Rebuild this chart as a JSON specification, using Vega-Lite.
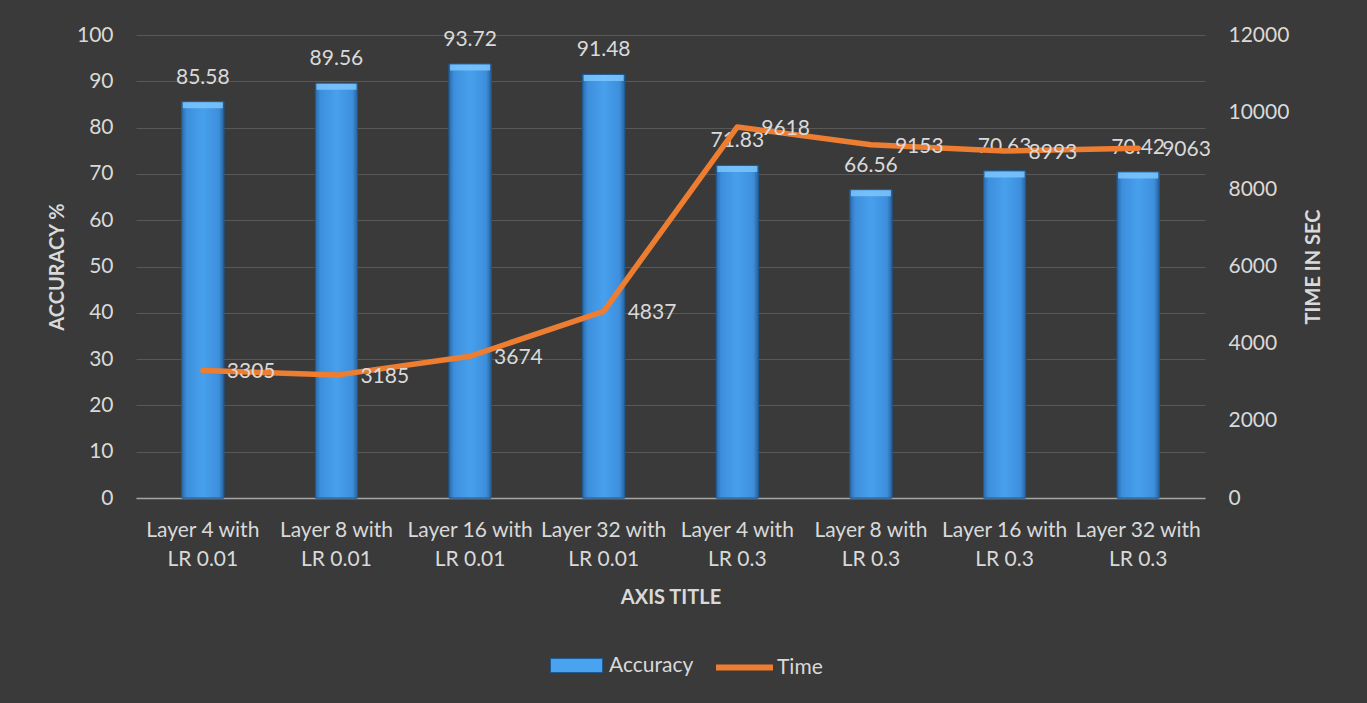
{
  "$schema": "https://vega.github.io/schema/vega-lite/v6.json",
  "autosize": {"type": "none"},
  "width": 1069,
  "height": 463,
  "padding": {"left": 136, "top": 35, "right": 162, "bottom": 205},
  "background": "#3a3a3a",
  "config": {
    "font": "Lato",
    "view": {"stroke": null},
    "axis": {
      "labelFont": "Lato",
      "labelFontSize": 21,
      "labelColor": "#d9d9d9",
      "titleFont": "Lato",
      "titleFontSize": 20,
      "titleFontWeight": "bold",
      "titleColor": "#d9d9d9",
      "ticks": false
    },
    "legend": {
      "labelFont": "Lato",
      "labelFontSize": 21,
      "labelColor": "#d9d9d9",
      "padding": 0,
      "labelOffset": 6,
      "title": null
    }
  },
  "data": {
    "values": [
      {"cat": "Layer 4 with|LR 0.01", "accuracy": 85.58, "time": 3305},
      {"cat": "Layer 8 with|LR 0.01", "accuracy": 89.56, "time": 3185},
      {"cat": "Layer 16 with|LR 0.01", "accuracy": 93.72, "time": 3674},
      {"cat": "Layer 32 with|LR 0.01", "accuracy": 91.48, "time": 4837},
      {"cat": "Layer 4 with|LR 0.3", "accuracy": 71.83, "time": 9618},
      {"cat": "Layer 8 with|LR 0.3", "accuracy": 66.56, "time": 9153},
      {"cat": "Layer 16 with|LR 0.3", "accuracy": 70.63, "time": 8993},
      {"cat": "Layer 32 with|LR 0.3", "accuracy": 70.42, "time": 9063}
    ]
  },
  "encoding": {
    "x": {
      "field": "cat",
      "type": "nominal",
      "sort": null,
      "scale": {"paddingInner": 0, "paddingOuter": 0},
      "axis": {
        "title": "AXIS TITLE",
        "titlePadding": 18,
        "labelAngle": 0,
        "labelExpr": "split(datum.label, '|')",
        "labelLineHeight": 29,
        "labelPadding": 21,
        "labelLimit": 0,
        "labelOverlap": false,
        "labelBound": false,
        "domain": true,
        "domainColor": "#a6a6a6",
        "domainWidth": 1.5,
        "grid": false
      }
    }
  },
  "layer": [
    {
      "encoding": {
        "y": {
          "field": "accuracy",
          "type": "quantitative",
          "scale": {"domain": [0, 100], "nice": false},
          "axis": {
            "title": "ACCURACY %",
            "titlePadding": 9,
            "values": [0, 10, 20, 30, 40, 50, 60, 70, 80, 90, 100],
            "labelPadding": 23,
            "domain": false,
            "grid": true,
            "gridColor": "#585858",
            "gridWidth": 1.2
          }
        }
      },
      "layer": [
        {
          "mark": {"type": "bar", "width": 42, "stroke": "#1f5a94", "strokeWidth": 1},
          "encoding": {
            "fill": {
              "datum": "Accuracy",
              "type": "nominal",
              "scale": {"range": ["#4aa3ee"]},
              "legend": {
                "orient": "none",
                "legendX": 414,
                "legendY": 604,
                "symbolType": "M-1,-0.27H1V0.27H-1Z",
                "symbolSize": 2704,
                "symbolStrokeColor": "#1f5a94",
                "symbolStrokeWidth": 1,
                "symbolOpacity": 1
              }
            }
          }
        },
        {
          "mark": {
            "type": "bar",
            "width": 42,
            "fill": {
              "gradient": "linear",
              "x1": 0, "y1": 0, "x2": 1, "y2": 0,
              "stops": [
                {"offset": 0, "color": "#2b6cae"},
                {"offset": 0.12, "color": "#3d8fdc"},
                {"offset": 0.5, "color": "#48a0ec"},
                {"offset": 0.88, "color": "#3d8fdc"},
                {"offset": 1, "color": "#28649f"}
              ]
            },
            "stroke": "#1f5a94",
            "strokeWidth": 1
          }
        },
        {
          "mark": {"type": "tick", "size": 40, "thickness": 6, "yOffset": 3.5, "fill": "#7cc6fb", "opacity": 0.85}
        },
        {
          "mark": {"type": "text", "align": "center", "baseline": "alphabetic", "dy": -18, "fontSize": 21, "fill": "#d9d9d9"},
          "encoding": {"text": {"field": "accuracy", "type": "quantitative", "format": ".2f"}}
        }
      ]
    },
    {
      "encoding": {
        "y": {
          "field": "time",
          "type": "quantitative",
          "scale": {"domain": [0, 12000], "nice": false},
          "axis": {
            "orient": "right",
            "title": "TIME IN SEC",
            "titleAngle": 270,
            "titlePadding": 35,
            "values": [0, 2000, 4000, 6000, 8000, 10000, 12000],
            "format": "d",
            "labelPadding": 23,
            "domain": false,
            "grid": false
          }
        }
      },
      "layer": [
        {
          "mark": {"type": "line", "strokeWidth": 5.5, "strokeCap": "round", "strokeJoin": "round"},
          "encoding": {
            "stroke": {
              "datum": "Time",
              "type": "nominal",
              "scale": {"range": ["#ed7d31"]},
              "legend": {
                "orient": "none",
                "legendX": 577,
                "legendY": 601,
                "symbolType": "stroke",
                "symbolSize": 3249,
                "symbolStrokeWidth": 6,
                "labelOffset": 1
              }
            }
          }
        },
        {
          "mark": {"type": "text", "align": "left", "baseline": "middle", "dx": 24, "dy": 2, "fontSize": 21, "fill": "#d9d9d9"},
          "encoding": {"text": {"field": "time", "type": "quantitative", "format": "d"}}
        }
      ]
    }
  ],
  "resolve": {"scale": {"y": "independent", "fill": "independent", "stroke": "independent"}}
}
